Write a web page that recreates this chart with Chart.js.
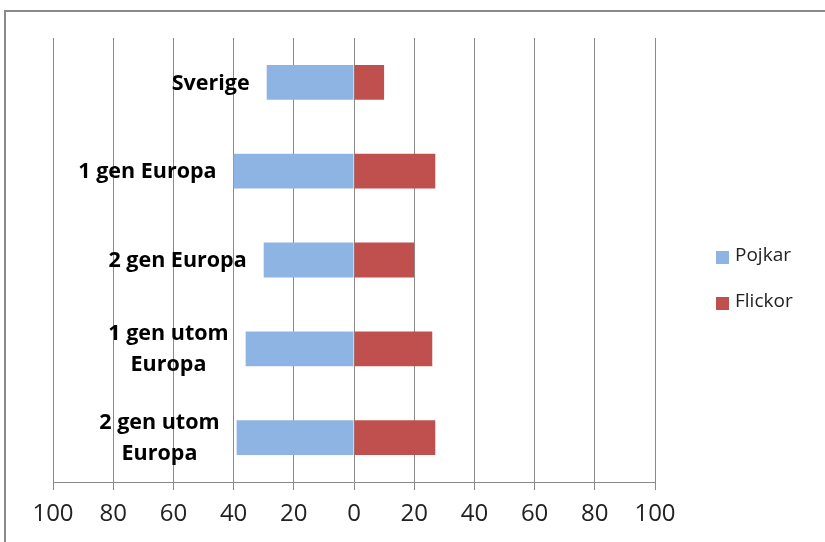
<!DOCTYPE html>
<html>
<head>
<meta charset="utf-8">
<script src="https://cdn.jsdelivr.net/npm/chart.js@4"></script>
<style>
  html, body { margin: 0; padding: 0; background: #fff; }
  #wrap { position: relative; width: 825px; height: 542px; overflow: hidden; }
  #frame { position: absolute; left: 4px; top: 10px; width: 900px; height: 600px; border: 2px solid #8a8a8a; box-sizing: border-box; }
  canvas { position: absolute; left: 0; top: 0; }
</style>
</head>
<body>
<div id="wrap">
  <div id="frame"></div>
  <canvas id="chart" width="825" height="542"></canvas>
</div>
<script>
const categories = ['Sverige', '1 gen Europa', '2 gen Europa', ['1 gen utom', 'Europa'], ['2 gen utom', 'Europa']];
const pojkar = [-29, -40, -30, -36, -39];
const flickor = [10, 27, 20, 26, 27];
const xTicks = [-100, -80, -60, -40, -20, 0, 20, 40, 60, 80, 100];

const FONT = '"Open Sans", sans-serif';

// category names sit just left of the Pojkar bar, like Excel data labels
const barLabels = {
  id: 'barLabels',
  afterDatasetsDraw(chart) {
    const ctx = chart.ctx;
    const meta = chart.getDatasetMeta(0);
    ctx.save();
    ctx.font = 'bold 21.5px ' + FONT;
    ctx.fillStyle = '#000';
    ctx.textBaseline = 'middle';
    ctx.textAlign = 'center';
    meta.data.forEach((el, i) => {
      const lines = [].concat(categories[i]);
      const w = Math.max(...lines.map(l => ctx.measureText(l).width));
      const cx = Math.min(el.x, el.base) - 17 - w / 2;
      const lh = 31;
      const y0 = el.y + 1 - (lines.length - 1) * lh / 2;
      lines.forEach((l, j) => ctx.fillText(l, cx, y0 + j * lh));
    });
    ctx.restore();
  }
};

const sideLegend = {
  id: 'sideLegend',
  afterDraw(chart) {
    const ctx = chart.ctx;
    ctx.save();
    ctx.font = '19px ' + FONT;
    ctx.textBaseline = 'middle';
    ctx.textAlign = 'left';
    chart.data.datasets.forEach((ds, i) => {
      const y = 257 + i * 46;
      ctx.fillStyle = ds.backgroundColor;
      ctx.fillRect(716, y - 6, 13, 13);
      ctx.fillStyle = '#222';
      ctx.fillText(ds.label, 735, y - 1);
    });
    ctx.restore();
  }
};

new Chart(document.getElementById('chart'), {
  type: 'bar',
  data: {
    labels: categories,
    datasets: [
      { label: 'Pojkar', data: pojkar, backgroundColor: '#8EB4E3', barPercentage: 0.8, categoryPercentage: 0.49 },
      { label: 'Flickor', data: flickor, backgroundColor: '#C0504D', barPercentage: 0.8, categoryPercentage: 0.49 }
    ]
  },
  options: {
    indexAxis: 'y',
    responsive: false,
    animation: false,
    layout: { padding: { left: 53, top: 38, right: 170, bottom: 0 } },
    plugins: { legend: { display: false }, tooltip: { enabled: false } },
    scales: {
      x: {
        stacked: true,
        min: -100,
        max: 100,
        afterBuildTicks: s => { s.ticks = xTicks.map(v => ({ value: v })); },
        afterFit: s => { s.height = 60; },
        grid: { color: '#8a8a8a', lineWidth: 1, tickLength: 8 },
        border: { color: '#8a8a8a' },
        ticks: {
          color: '#222',
          padding: 10,
          font: { family: FONT, size: 24 },
          maxRotation: 0,
          autoSkip: false,
          callback: v => Math.abs(v)
        }
      },
      y: {
        stacked: true,
        display: false
      }
    }
  },
  plugins: [barLabels, sideLegend]
});
</script>
</body>
</html>
